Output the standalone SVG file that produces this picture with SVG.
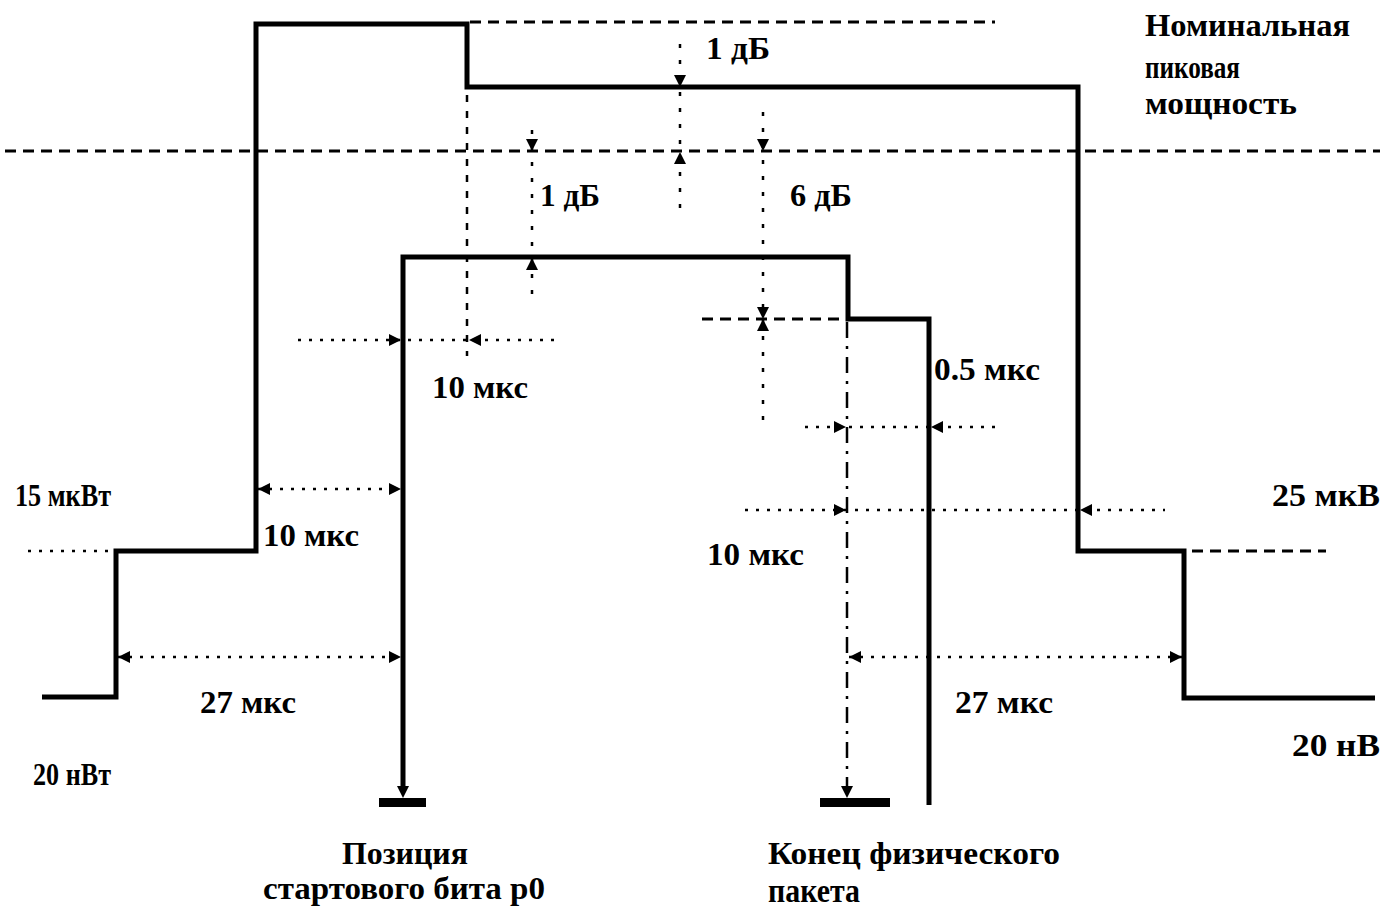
<svg xmlns="http://www.w3.org/2000/svg" width="1383" height="910" viewBox="0 0 1383 910">
<style>
.bg{fill:#ffffff}
.mask{fill:none;stroke:#000;stroke-width:5;stroke-linejoin:miter}
.dash{fill:none;stroke:#000;stroke-width:3;stroke-dasharray:11 7}
.dot{fill:none;stroke:#000;stroke-width:2.5;stroke-dasharray:3 8}
.vdot{fill:none;stroke:#000;stroke-width:2.5;stroke-dasharray:4 12}
.vdash{fill:none;stroke:#000;stroke-width:2.5;stroke-dasharray:7 9}
.dashdot{fill:none;stroke:#000;stroke-width:2.5;stroke-dasharray:16 8 3 8}
.bar{fill:#000}
text{font-family:"Liberation Serif","Times New Roman",serif;font-size:31px;font-weight:bold;fill:#000}
.lc{font-size:33px}
</style>
<defs>
<path id="ah" d="M0,0 L-12,-6 L-12,6 Z" fill="#000"/>
</defs>
<rect class="bg" x="0" y="0" width="1383" height="910"/>

<g id="reference-lines">
<line class="dash" x1="470" y1="22" x2="995" y2="22"/>
<line class="dash" x1="5" y1="151" x2="1380" y2="151"/>
<line class="dot" x1="28" y1="551" x2="114" y2="551"/>
<line class="dash" x1="1192" y1="551" x2="1326" y2="551"/>
<line class="dash" x1="702" y1="319" x2="846" y2="319"/>
</g>

<g id="outer-mask">
<polyline class="mask" points="42,697 116,697 116,551 256,551 256,24 467,24 467,87 1078,87 1078,551 1184,551 1184,698 1375,698"/>
</g>

<g id="signal">
<polyline class="mask" points="403,792 403,257 848,257 848,319 929,319 929,805"/>
</g>

<g id="start-marker">
<use href="#ah" transform="translate(403,798) rotate(90)"/>
<rect class="bar" x="379" y="798" width="47" height="9"/>
</g>

<g id="end-marker">
<line class="dashdot" x1="847" y1="322" x2="847" y2="788"/>
<use href="#ah" transform="translate(847,798) rotate(90)"/>
<rect class="bar" x="820" y="798" width="70" height="9"/>
</g>

<g id="connectors">
<line class="vdot" x1="680" y1="44" x2="680" y2="215"/>
<use href="#ah" transform="translate(680,87) rotate(90)"/>
<use href="#ah" transform="translate(680,152) rotate(-90)"/>

<line class="vdot" x1="532" y1="130" x2="532" y2="296"/>
<use href="#ah" transform="translate(532,151) rotate(90)"/>
<use href="#ah" transform="translate(532,258) rotate(-90)"/>

<line class="vdot" x1="763" y1="112" x2="763" y2="426"/>
<use href="#ah" transform="translate(763,151) rotate(90)"/>
<use href="#ah" transform="translate(763,319) rotate(90)"/>
<use href="#ah" transform="translate(763,319) rotate(-90)"/>

<line class="vdash" x1="467" y1="95" x2="467" y2="356"/>

<line class="dot" x1="298" y1="340" x2="560" y2="340"/>
<use href="#ah" transform="translate(401,340)"/>
<use href="#ah" transform="translate(469,340) rotate(180)"/>

<line class="dot" x1="805" y1="427" x2="996" y2="427"/>
<use href="#ah" transform="translate(846,427)"/>
<use href="#ah" transform="translate(931,427) rotate(180)"/>

<line class="dot" x1="745" y1="510" x2="1165" y2="510"/>
<use href="#ah" transform="translate(846,510)"/>
<use href="#ah" transform="translate(1080,510) rotate(180)"/>

<line class="dot" x1="849" y1="657" x2="1183" y2="657"/>
<use href="#ah" transform="translate(849,657) rotate(180)"/>
<use href="#ah" transform="translate(1182,657)"/>

<line class="dot" x1="258" y1="489" x2="402" y2="489"/>
<use href="#ah" transform="translate(258,489) rotate(180)"/>
<use href="#ah" transform="translate(401,489)"/>

<line class="dot" x1="118" y1="657" x2="402" y2="657"/>
<use href="#ah" transform="translate(118,657) rotate(180)"/>
<use href="#ah" transform="translate(401,657)"/>
</g>

<g id="labels">
<text x="1145" y="36" textLength="205" lengthAdjust="spacingAndGlyphs">Номинальная</text>
<text x="1145" y="78" textLength="95" lengthAdjust="spacingAndGlyphs">пиковая</text>
<text x="1145" y="114" textLength="152" lengthAdjust="spacingAndGlyphs">мощность</text>
<text x="706" y="59" textLength="64" lengthAdjust="spacingAndGlyphs">1 дБ</text>
<text x="540" y="206" textLength="60" lengthAdjust="spacingAndGlyphs">1 дБ</text>
<text x="790" y="206" textLength="62" lengthAdjust="spacingAndGlyphs">6 дБ</text>
<text x="432" y="398" textLength="96" lengthAdjust="spacingAndGlyphs">10 мкс</text>
<text x="934" y="380" textLength="106" lengthAdjust="spacingAndGlyphs">0.5 мкс</text>
<text x="15" y="506" textLength="96" lengthAdjust="spacingAndGlyphs">15 мкВт</text>
<text x="263" y="546" textLength="96" lengthAdjust="spacingAndGlyphs">10 мкс</text>
<text x="1272" y="506" textLength="108" lengthAdjust="spacingAndGlyphs">25 мкВ</text>
<text x="707" y="565" textLength="97" lengthAdjust="spacingAndGlyphs">10 мкс</text>
<text x="200" y="713" textLength="96" lengthAdjust="spacingAndGlyphs">27 мкс</text>
<text x="955" y="713" textLength="98" lengthAdjust="spacingAndGlyphs">27 мкс</text>
<text x="33" y="785" textLength="78" lengthAdjust="spacingAndGlyphs">20 нВт</text>
<text x="1292" y="756" textLength="88" lengthAdjust="spacingAndGlyphs">20 нВ</text>
<text x="342" y="864" textLength="126" lengthAdjust="spacingAndGlyphs">Позиция</text>
<text x="263" y="899" textLength="282" lengthAdjust="spacingAndGlyphs">стартового бита р0</text>
<text x="768" y="864" textLength="292" lengthAdjust="spacingAndGlyphs">Конец физического</text>
<text class="lc" x="768" y="902" textLength="92" lengthAdjust="spacingAndGlyphs">пакета</text>
</g>
</svg>
